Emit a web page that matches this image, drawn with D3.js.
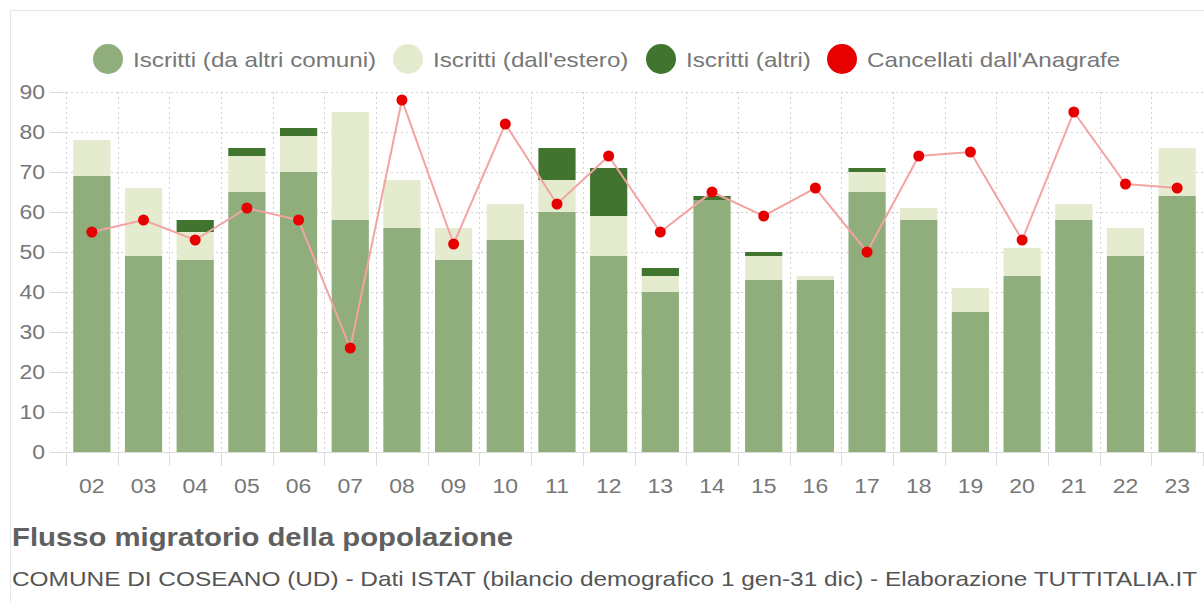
<!DOCTYPE html>
<html>
<head>
<meta charset="utf-8">
<script src="https://cdn.jsdelivr.net/npm/d3@7"></script>
<style>
  body { margin: 0; background: #fff; }
  svg { display: block; font-family: 'Liberation Sans', Arial, sans-serif; }
</style>
</head>
<body>
<script>
const years = ['02', '03', '04', '05', '06', '07', '08', '09', '10', '11', '12',
  '13', '14', '15', '16', '17', '18', '19', '20', '21', '22', '23'];
const daComuni = [69, 49, 48, 65, 70, 58, 56, 48, 53, 60, 49, 40, 63, 43, 43, 65, 58, 35, 44, 58, 49, 64];
const dallEstero = [9, 17, 7, 9, 9, 27, 12, 8, 9, 8, 10, 4, 0, 6, 1, 5, 3, 6, 7, 4, 7, 12];
const altri = [0, 0, 3, 2, 2, 0, 0, 0, 0, 8, 12, 2, 1, 1, 0, 1, 0, 0, 0, 0, 0, 0];
const cancellati = [55, 58, 53, 61, 58, 26, 88, 52, 82, 62, 74, 55, 65, 59, 66, 50, 74, 75, 53, 85, 67, 66];
const yTicks = [0, 10, 20, 30, 40, 50, 60, 70, 80, 90];

const seriesNames = ['Iscritti (da altri comuni)', 'Iscritti (dall\'estero)', 'Iscritti (altri)', 'Cancellati dall\'Anagrafe'];
const colors = ['#8fae7b', '#e4ebcf', '#41752f', '#e60000'];

const width = 1204, height = 602;
const plotLeft = 66, plotRight = 1203, plotTop = 92, plotBottom = 452;
const font = "'Liberation Sans', Arial, sans-serif";
const squash = 0.86; // text in the picture is a bit flatter than normal

const svg = d3.select('body').append('svg')
  .attr('width', width)
  .attr('height', height);

// frame
svg.append('path')
  .attr('d', `M10.5,${height} V10.5 H${width}`)
  .attr('fill', 'none')
  .attr('stroke', '#e3e6ea')
  .attr('stroke-width', 1);

const x = d3.scaleBand()
  .domain(years)
  .range([plotLeft, plotRight])
  .paddingInner(0.28)
  .paddingOuter(0.14);

const xStep = d3.scaleBand().domain(years).range([plotLeft, plotRight]);

const y = d3.scaleLinear()
  .domain([0, 90])
  .range([plotBottom, plotTop]);

// grid
const grid = svg.append('g').attr('stroke', '#d0d0d0').attr('stroke-dasharray', '2,3');
grid.selectAll('line.h')
  .data(yTicks)
  .join('line')
    .attr('class', 'h')
    .attr('x1', plotLeft)
    .attr('x2', plotRight)
    .attr('y1', d => Math.round(y(d)) + 0.5)
    .attr('y2', d => Math.round(y(d)) + 0.5);
grid.selectAll('line.v')
  .data(years)
  .join('line')
    .attr('class', 'v')
    .attr('x1', d => Math.round(xStep(d)) + 0.5)
    .attr('x2', d => Math.round(xStep(d)) + 0.5)
    .attr('y1', plotTop)
    .attr('y2', plotBottom);

// stacked bars
const rows = years.map((yr, i) => ({ year: yr, comuni: daComuni[i], estero: dallEstero[i], altri: altri[i] }));
const stack = d3.stack().keys(['comuni', 'estero', 'altri'])(rows);

svg.append('g')
  .selectAll('g')
  .data(stack)
  .join('g')
    .attr('fill', (d, i) => colors[i])
  .selectAll('rect')
  .data(d => d)
  .join('rect')
    .attr('x', d => x(d.data.year))
    .attr('width', x.bandwidth())
    .attr('y', d => y(d[1]))
    .attr('height', d => y(d[0]) - y(d[1]));

// x axis
const xAxis = svg.append('g')
  .attr('transform', `translate(0,${plotBottom})`)
  .call(d3.axisBottom(xStep).tickSize(0).tickPadding(27));
xAxis.select('.domain').attr('stroke', '#dcdcdc');
xAxis.selectAll('text')
  .attr('fill', '#777')
  .attr('font-size', 23)
  .attr('font-family', font)
  .attr('transform', `translate(0,${27 * (1 - squash)}) scale(1,${squash})`);
svg.append('g')
  .attr('stroke', '#dcdcdc')
  .selectAll('line')
  .data(years.concat(['end']))
  .join('line')
    .attr('x1', (d, i) => Math.round(plotLeft + i * xStep.step()) + 0.5)
    .attr('x2', (d, i) => Math.round(plotLeft + i * xStep.step()) + 0.5)
    .attr('y1', plotBottom)
    .attr('y2', plotBottom + 14);

// y axis
const yAxis = svg.append('g')
  .attr('transform', `translate(${plotLeft},0)`)
  .call(d3.axisLeft(y).tickValues(yTicks).tickSize(16).tickPadding(5));
yAxis.select('.domain').remove();
yAxis.selectAll('line').attr('stroke', '#dcdcdc');
yAxis.selectAll('text')
  .attr('fill', '#777')
  .attr('font-size', 23)
  .attr('font-family', font)
  .attr('transform', `scale(1,${squash})`);

// cancellati line
const cx = d => xStep(d) + xStep.bandwidth() / 2;
svg.append('path')
  .datum(cancellati)
  .attr('fill', 'none')
  .attr('stroke', '#f4a3a3')
  .attr('stroke-width', 2)
  .attr('d', d3.line().x((d, i) => cx(years[i])).y(d => y(d)));

svg.append('g')
  .attr('fill', colors[3])
  .selectAll('circle')
  .data(cancellati)
  .join('circle')
    .attr('cx', (d, i) => cx(years[i]))
    .attr('cy', d => y(d))
    .attr('r', 5.5);

// legend
const legendX = [108, 408, 661, 842];
const legend = svg.append('g')
  .selectAll('g')
  .data(seriesNames)
  .join('g')
    .attr('transform', (d, i) => `translate(${legendX[i]},59)`);
legend.append('circle')
  .attr('r', 15)
  .attr('fill', (d, i) => colors[i]);
legend.append('text')
  .attr('transform', `translate(25,8) scale(1,${squash})`)
  .attr('font-size', 24.2)
  .attr('fill', '#777')
  .text(d => d);

// titles
svg.append('text')
  .attr('transform', `translate(12,546) scale(1,${squash})`)
  .attr('font-size', 29.3)
  .attr('font-weight', 'bold')
  .attr('fill', '#606060')
  .text('Flusso migratorio della popolazione');

svg.append('text')
  .attr('transform', `translate(12,586) scale(1,${squash})`)
  .attr('font-size', 24.4)
  .attr('fill', '#555')
  .text('COMUNE DI COSEANO (UD) - Dati ISTAT (bilancio demografico 1 gen-31 dic) - Elaborazione TUTTITALIA.IT');
</script>
</body>
</html>
